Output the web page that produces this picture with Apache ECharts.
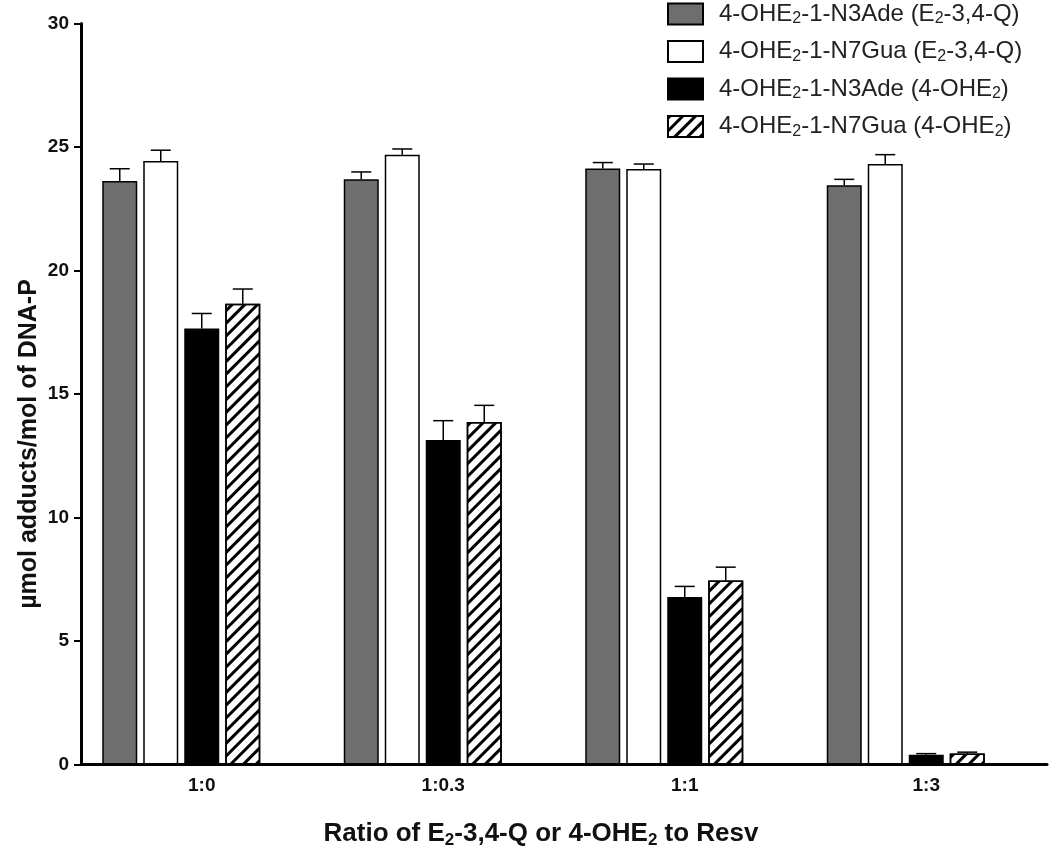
<!DOCTYPE html>
<html>
<head>
<meta charset="utf-8">
<script src="https://cdn.jsdelivr.net/npm/echarts@6/dist/echarts.min.js"></script>
<style>
html,body{margin:0;padding:0;background:#fff;}
#chart{width:1050px;height:854px;}
</style>
</head>
<body>
<div id="chart"></div>
<script>
const categories = ['1:0', '1:0.3', '1:1', '1:3'];
const seriesNames = [
  '4-OHE2-1-N3Ade (E2-3,4-Q)',
  '4-OHE2-1-N7Gua (E2-3,4-Q)',
  '4-OHE2-1-N3Ade (4-OHE2)',
  '4-OHE2-1-N7Gua (4-OHE2)'
];
const n3adeQ = [23.62, 23.69, 24.13, 23.45];
const n7guaQ = [24.43, 24.69, 24.11, 24.31];
const n3adeOHE = [17.65, 13.14, 6.78, 0.39];
const n7guaOHE = [18.65, 13.87, 7.45, 0.45];
const errN3adeQ = [0.50, 0.30, 0.24, 0.24];
const errN7guaQ = [0.44, 0.23, 0.20, 0.38];
const errN3adeOHE = [0.61, 0.78, 0.43, 0.05];
const errN7guaOHE = [0.60, 0.67, 0.54, 0.05];
const yTicks = [0, 5, 10, 15, 20, 25, 30];

const BAR_W = 35, GAP = 6, NSLOT = 5;
const FONT = 'Liberation Sans, Arial, sans-serif';

function errSeries(vals, errs, slot) {
  return {
    type: 'custom', silent: true, z: 5,
    data: vals.map((v, i) => [i, v, errs[i]]),
    encode: { x: 0, y: 1 },
    renderItem(params, api) {
      const c = api.value(0), v = api.value(1), e = api.value(2);
      const p0 = api.coord([c, v]);
      const p1 = api.coord([c, v + e]);
      const total = NSLOT * BAR_W + (NSLOT - 1) * GAP;
      const x = p0[0] - total / 2 + slot * (BAR_W + GAP) + BAR_W / 2;
      return {
        type: 'group',
        children: [
          { type: 'line', shape: { x1: x, y1: p0[1], x2: x, y2: p1[1] }, style: { stroke: '#000', lineWidth: 1.5 } },
          { type: 'line', shape: { x1: x - 10, y1: p1[1], x2: x + 10, y2: p1[1] }, style: { stroke: '#000', lineWidth: 1.5 } }
        ]
      };
    }
  };
}

const barBase = { type: 'bar', barWidth: BAR_W, barGap: (GAP / BAR_W * 100) + '%' };

const chart = echarts.init(document.getElementById('chart'), null, { renderer: 'canvas' });
chart.setOption({
  animation: false,
  backgroundColor: '#fff',
  grid: { left: 81, right: 3, top: 23.5, bottom: 89.5, containLabel: false, outerBoundsMode: 'none' },
  legend: {
    data: seriesNames,
    orient: 'vertical',
    left: 667, top: 1, padding: 0,
    icon: 'rect',
    itemWidth: 35, itemHeight: 21, itemGap: 11.5,
    selectedMode: false,
    formatter: (name) => name.replace(/E2/g, 'E{s|2}'),
    textStyle: {
      fontFamily: FONT, fontSize: 24, color: '#222', padding: [0, 0, 0, 11], lineHeight: 23,
      rich: { s: { fontFamily: FONT, fontSize: 16, color: '#222', lineHeight: 23, padding: [10, 0, 0, 0] } }
    }
  },
  xAxis: {
    type: 'category',
    data: categories,
    name: 'Ratio of E{s|2}-3,4-Q or 4-OHE{s|2} to Resv',
    nameLocation: 'middle',
    nameGap: 55,
    nameMoveOverlap: false,
    nameTextStyle: {
      fontFamily: FONT, fontSize: 26, fontWeight: 'bold', color: '#111', padding: [0, 46, 0, 0],
      rich: { s: { fontFamily: FONT, fontSize: 17, fontWeight: 'bold', color: '#111', padding: [12, 0, 0, 0] } }
    },
    axisLine: { lineStyle: { color: '#000', width: 3 } },
    axisTick: { alignWithLabel: true, length: 6, lineStyle: { color: '#000', width: 3 } },
    axisLabel: { fontFamily: FONT, fontSize: 19, fontWeight: 'bold', color: '#111', margin: 12 },
    splitLine: { show: false }
  },
  yAxis: {
    type: 'value',
    min: 0, max: 30, interval: 5,
    name: 'µmol adducts/mol of DNA-P',
    nameLocation: 'middle',
    nameGap: 39,
    nameMoveOverlap: false,
    nameTextStyle: { fontFamily: FONT, fontSize: 25, fontWeight: 'bold', color: '#111', padding: [0, 100, 0, 0] },
    axisLine: { show: true, lineStyle: { color: '#000', width: 3 } },
    axisTick: { show: true, length: 7, lineStyle: { color: '#000', width: 2 } },
    axisLabel: {
      fontFamily: FONT, fontSize: 19, fontWeight: 'bold', color: '#111', margin: 12,
      formatter: (v) => yTicks.includes(v) ? String(v) : ''
    },
    splitLine: { show: false }
  },
  series: [
    Object.assign({}, barBase, { name: seriesNames[0], data: n3adeQ,
      itemStyle: { color: '#6e6e6e', borderColor: '#000', borderWidth: 1.5 } }),
    Object.assign({}, barBase, { name: seriesNames[1], data: n7guaQ,
      itemStyle: { color: '#fff', borderColor: '#000', borderWidth: 1.5 } }),
    Object.assign({}, barBase, { name: seriesNames[2], data: n3adeOHE,
      itemStyle: { color: '#000', borderColor: '#000', borderWidth: 1.5 } }),
    Object.assign({}, barBase, { name: seriesNames[3], data: n7guaOHE,
      itemStyle: { color: '#fff', borderColor: '#000', borderWidth: 1.5,
        decal: { symbol: 'rect', symbolSize: 1, color: '#000',
          dashArrayX: [1, 0], dashArrayY: [2.3, 5.7], rotation: -Math.PI / 4 } } }),
    Object.assign({}, barBase, { name: 'spacer', data: [null, null, null, null],
      itemStyle: { color: 'transparent' }, silent: true }),
    errSeries(n3adeQ, errN3adeQ, 0),
    errSeries(n7guaQ, errN7guaQ, 1),
    errSeries(n3adeOHE, errN3adeOHE, 2),
    errSeries(n7guaOHE, errN7guaOHE, 3)
  ]
});
</script>
</body>
</html>
